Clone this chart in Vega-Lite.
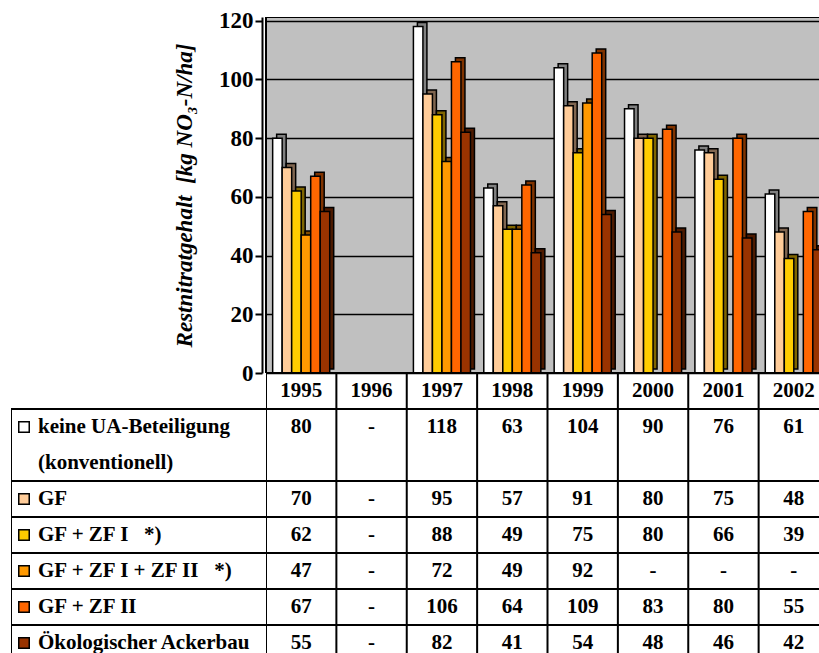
{
  "$schema": "https://vega.github.io/schema/vega-lite/v6.json",
  "background": "white",
  "padding": {"left": 5, "top": 9, "right": 0, "bottom": 0},
  "config": {"view": {"stroke": null}, "font": "Liberation Serif"},
  "datasets": {
    "messwerte": [
      {"Jahr": "1995", "Variante": "keine UA-Beteiligung", "Wert": 80},
      {"Jahr": "1996", "Variante": "keine UA-Beteiligung", "Wert": null},
      {"Jahr": "1997", "Variante": "keine UA-Beteiligung", "Wert": 118},
      {"Jahr": "1998", "Variante": "keine UA-Beteiligung", "Wert": 63},
      {"Jahr": "1999", "Variante": "keine UA-Beteiligung", "Wert": 104},
      {"Jahr": "2000", "Variante": "keine UA-Beteiligung", "Wert": 90},
      {"Jahr": "2001", "Variante": "keine UA-Beteiligung", "Wert": 76},
      {"Jahr": "2002", "Variante": "keine UA-Beteiligung", "Wert": 61},
      {"Jahr": "1995", "Variante": "GF", "Wert": 70},
      {"Jahr": "1996", "Variante": "GF", "Wert": null},
      {"Jahr": "1997", "Variante": "GF", "Wert": 95},
      {"Jahr": "1998", "Variante": "GF", "Wert": 57},
      {"Jahr": "1999", "Variante": "GF", "Wert": 91},
      {"Jahr": "2000", "Variante": "GF", "Wert": 80},
      {"Jahr": "2001", "Variante": "GF", "Wert": 75},
      {"Jahr": "2002", "Variante": "GF", "Wert": 48},
      {"Jahr": "1995", "Variante": "GF + ZF I", "Wert": 62},
      {"Jahr": "1996", "Variante": "GF + ZF I", "Wert": null},
      {"Jahr": "1997", "Variante": "GF + ZF I", "Wert": 88},
      {"Jahr": "1998", "Variante": "GF + ZF I", "Wert": 49},
      {"Jahr": "1999", "Variante": "GF + ZF I", "Wert": 75},
      {"Jahr": "2000", "Variante": "GF + ZF I", "Wert": 80},
      {"Jahr": "2001", "Variante": "GF + ZF I", "Wert": 66},
      {"Jahr": "2002", "Variante": "GF + ZF I", "Wert": 39},
      {"Jahr": "1995", "Variante": "GF + ZF I + ZF II", "Wert": 47},
      {"Jahr": "1996", "Variante": "GF + ZF I + ZF II", "Wert": null},
      {"Jahr": "1997", "Variante": "GF + ZF I + ZF II", "Wert": 72},
      {"Jahr": "1998", "Variante": "GF + ZF I + ZF II", "Wert": 49},
      {"Jahr": "1999", "Variante": "GF + ZF I + ZF II", "Wert": 92},
      {"Jahr": "2000", "Variante": "GF + ZF I + ZF II", "Wert": null},
      {"Jahr": "2001", "Variante": "GF + ZF I + ZF II", "Wert": null},
      {"Jahr": "2002", "Variante": "GF + ZF I + ZF II", "Wert": null},
      {"Jahr": "1995", "Variante": "GF + ZF II", "Wert": 67},
      {"Jahr": "1996", "Variante": "GF + ZF II", "Wert": null},
      {"Jahr": "1997", "Variante": "GF + ZF II", "Wert": 106},
      {"Jahr": "1998", "Variante": "GF + ZF II", "Wert": 64},
      {"Jahr": "1999", "Variante": "GF + ZF II", "Wert": 109},
      {"Jahr": "2000", "Variante": "GF + ZF II", "Wert": 83},
      {"Jahr": "2001", "Variante": "GF + ZF II", "Wert": 80},
      {"Jahr": "2002", "Variante": "GF + ZF II", "Wert": 55},
      {"Jahr": "1995", "Variante": "Ökologischer Ackerbau", "Wert": 55},
      {"Jahr": "1996", "Variante": "Ökologischer Ackerbau", "Wert": null},
      {"Jahr": "1997", "Variante": "Ökologischer Ackerbau", "Wert": 82},
      {"Jahr": "1998", "Variante": "Ökologischer Ackerbau", "Wert": 41},
      {"Jahr": "1999", "Variante": "Ökologischer Ackerbau", "Wert": 54},
      {"Jahr": "2000", "Variante": "Ökologischer Ackerbau", "Wert": 48},
      {"Jahr": "2001", "Variante": "Ökologischer Ackerbau", "Wert": 46},
      {"Jahr": "2002", "Variante": "Ökologischer Ackerbau", "Wert": 42}
    ],
    "zeilen": [
      {"Zeile": "keine UA-Beteiligung", "Variante": "keine UA-Beteiligung", "Text": "keine UA-Beteiligung"},
      {"Zeile": "(konventionell)", "Variante": null, "Text": "(konventionell)"},
      {"Zeile": "GF", "Variante": "GF", "Text": "GF"},
      {"Zeile": "GF + ZF I", "Variante": "GF + ZF I", "Text": "GF + ZF I\u00a0\u00a0\u00a0*)"},
      {"Zeile": "GF + ZF I + ZF II", "Variante": "GF + ZF I + ZF II", "Text": "GF + ZF I + ZF II\u00a0\u00a0\u00a0*)"},
      {"Zeile": "GF + ZF II", "Variante": "GF + ZF II", "Text": "GF + ZF II"},
      {"Zeile": "Ökologischer Ackerbau", "Variante": "Ökologischer Ackerbau", "Text": "Ökologischer Ackerbau"}
    ]
  },
  "columns": 2,
  "spacing": 0,
  "bounds": "flush",
  "align": "each",
  "concat": [
    {
      "width": 255,
      "height": 356,
      "data": {"values": [{}]},
      "mark": {"type": "text"},
      "encoding": {"text": {"value": ""}}
    },
    {
      "width": 554,
      "height": 356,
      "view": {"fill": "#C0C0C0", "stroke": null},
      "data": {"name": "messwerte"},
      "transform": [{"filter": "isValid(datum.Wert)"}],
      "resolve": {"scale": {"color": "independent", "xOffset": "independent"}},
      "layer": [
        {
          "mark": {"type": "bar", "yOffset": -4, "stroke": "black", "strokeWidth": 1.5, "clip": true},
          "encoding": {
            "x": {"field": "Jahr", "type": "nominal", "scale": {"domain": ["1995", "1996", "1997", "1998", "1999", "2000", "2001", "2002"], "range": [0, 563], "paddingInner": 0, "paddingOuter": 0}, "axis": null},
            "xOffset": {"field": "Variante", "type": "nominal", "scale": {"domain": ["keine UA-Beteiligung", "GF", "GF + ZF I", "GF + ZF I + ZF II", "GF + ZF II", "Ökologischer Ackerbau"], "paddingInner": 0, "paddingOuter": 0.7, "align": 0.8}},
            "y": {"field": "Wert", "type": "quantitative", "scale": {"domain": [0, 121.26], "nice": false, "zero": true},
              "axis": {"values": [0, 20, 40, 60, 80, 100, 120], "grid": true, "gridColor": "black", "gridWidth": 1.5, "domainColor": "black", "domainWidth": 2, "tickColor": "black", "tickWidth": 2, "tickSize": 7, "offset": 4, "labelFont": "Liberation Serif", "labelFontWeight": "bold", "labelFontSize": 23, "labelColor": "black", "labelPadding": 2, "title": "Restnitratgehalt\u00a0\u00a0[kg NO₃-N/ha]", "titleFont": "Liberation Serif", "titleFontStyle": "italic", "titleFontWeight": "bold", "titleFontSize": 23, "titleColor": "black", "titlePadding": 22}},
            "color": {"field": "Variante", "type": "nominal", "scale": {"domain": ["keine UA-Beteiligung", "GF", "GF + ZF I", "GF + ZF I + ZF II", "GF + ZF II", "Ökologischer Ackerbau"], "range": ["#808080", "#806650", "#806600", "#804C00", "#803300", "#4D1A00"]}, "legend": null}
          }
        },
        {
          "mark": {"type": "bar", "stroke": "black", "strokeWidth": 1.5, "clip": true},
          "encoding": {
            "x": {"field": "Jahr", "type": "nominal"},
            "xOffset": {"field": "Variante", "type": "nominal", "scale": {"domain": ["keine UA-Beteiligung", "GF", "GF + ZF I", "GF + ZF I + ZF II", "GF + ZF II", "Ökologischer Ackerbau"], "paddingInner": 0, "paddingOuter": 0.7}},
            "y": {"field": "Wert", "type": "quantitative"},
            "color": {"field": "Variante", "type": "nominal", "scale": {"domain": ["keine UA-Beteiligung", "GF", "GF + ZF I", "GF + ZF I + ZF II", "GF + ZF II", "Ökologischer Ackerbau"], "range": ["#FFFFFF", "#FFCC99", "#FFCC00", "#FF9900", "#FF6600", "#993300"]}, "legend": null}
          }
        },
        {
          "mark": {"type": "rule", "color": "black", "strokeWidth": 2, "clip": true},
          "encoding": {"y": {"datum": 121.26, "type": "quantitative"}}
        },
        {
          "mark": {"type": "rule", "color": "black", "strokeWidth": 2, "clip": true},
          "encoding": {"y": {"datum": 0, "type": "quantitative"}}
        },
        {
          "mark": {"type": "rule", "color": "black", "strokeWidth": 2},
          "encoding": {"x": {"datum": "1995", "type": "nominal", "bandPosition": 0}}
        }
      ]
    },
    {
      "width": 255,
      "height": 280,
      "data": {"name": "zeilen"},
      "layer": [
        {
          "mark": {"type": "rule", "color": "black", "strokeWidth": 2, "clip": true},
          "encoding": {"x": {"datum": 0, "type": "quantitative", "scale": {"domain": [0, 1], "nice": false, "zero": false}, "axis": null}}
        },
        {
          "mark": {"type": "rect", "fill": "white"},
          "encoding": {
            "x": {"datum": -0.02, "type": "quantitative"},
            "x2": {"datum": 0.02},
            "y": {"datum": "Jahr", "type": "nominal", "scale": {"domain": ["Jahr", "keine UA-Beteiligung", "(konventionell)", "GF", "GF + ZF I", "GF + ZF I + ZF II", "GF + ZF II", "Ökologischer Ackerbau"], "range": [0, 288], "paddingInner": 0, "paddingOuter": 0}, "axis": null}
          }
        },
        {
          "transform": [{"filter": "isValid(datum.Variante)"}],
          "mark": {"type": "rule", "color": "black", "strokeWidth": 2, "clip": true},
          "encoding": {"y": {"field": "Zeile", "type": "nominal", "bandPosition": 0}}
        },
        {
          "transform": [{"filter": "isValid(datum.Variante)"}],
          "mark": {"type": "point", "shape": "square", "filled": true, "size": 110, "stroke": "black", "strokeWidth": 1.5, "opacity": 1, "xOffset": 13, "clip": true},
          "encoding": {
            "x": {"datum": 0, "type": "quantitative"},
            "y": {"field": "Zeile", "type": "nominal"},
            "fill": {"field": "Variante", "type": "nominal", "scale": {"domain": ["keine UA-Beteiligung", "GF", "GF + ZF I", "GF + ZF I + ZF II", "GF + ZF II", "Ökologischer Ackerbau"], "range": ["#FFFFFF", "#FFCC99", "#FFCC00", "#FF9900", "#FF6600", "#993300"]}, "legend": null}
          }
        },
        {
          "mark": {"type": "text", "align": "left", "baseline": "middle", "dx": 27, "font": "Liberation Serif", "fontWeight": "bold", "fontSize": 21, "color": "black", "clip": true},
          "encoding": {
            "x": {"datum": 0, "type": "quantitative"},
            "y": {"field": "Zeile", "type": "nominal"},
            "text": {"field": "Text", "type": "nominal"}
          }
        }
      ]
    },
    {
      "width": 554,
      "height": 280,
      "data": {"name": "messwerte"},
      "layer": [
        {
          "transform": [{"aggregate": [{"op": "count", "as": "n"}], "groupby": ["Jahr"]}],
          "mark": {"type": "rule", "color": "black", "strokeWidth": 2, "clip": true},
          "encoding": {"x": {"field": "Jahr", "type": "nominal", "bandPosition": 0, "scale": {"domain": ["1995", "1996", "1997", "1998", "1999", "2000", "2001", "2002"], "range": [0, 563], "paddingInner": 0, "paddingOuter": 0}, "axis": null}}
        },
        {
          "data": {"name": "zeilen"},
          "transform": [{"filter": "isValid(datum.Variante)"}],
          "mark": {"type": "rule", "color": "black", "strokeWidth": 2, "clip": true},
          "encoding": {"y": {"field": "Zeile", "type": "nominal", "bandPosition": 0, "scale": {"domain": ["Jahr", "keine UA-Beteiligung", "(konventionell)", "GF", "GF + ZF I", "GF + ZF I + ZF II", "GF + ZF II", "Ökologischer Ackerbau"], "range": [0, 288], "paddingInner": 0, "paddingOuter": 0}, "axis": null}}
        },
        {
          "transform": [{"aggregate": [{"op": "count", "as": "n"}], "groupby": ["Jahr"]}],
          "mark": {"type": "text", "baseline": "middle", "font": "Liberation Serif", "fontWeight": "bold", "fontSize": 21, "color": "black", "clip": true},
          "encoding": {
            "x": {"field": "Jahr", "type": "nominal"},
            "y": {"datum": "Jahr", "type": "nominal"},
            "text": {"field": "Jahr", "type": "nominal"}
          }
        },
        {
          "transform": [{"filter": "isValid(datum.Wert)"}],
          "mark": {"type": "text", "baseline": "middle", "font": "Liberation Serif", "fontWeight": "bold", "fontSize": 21, "color": "black", "clip": true},
          "encoding": {
            "x": {"field": "Jahr", "type": "nominal"},
            "y": {"field": "Variante", "type": "nominal"},
            "text": {"field": "Wert", "type": "quantitative"}
          }
        },
        {
          "transform": [{"filter": "!isValid(datum.Wert)"}],
          "mark": {"type": "text", "baseline": "middle", "font": "Liberation Serif", "fontWeight": "bold", "fontSize": 21, "color": "black", "clip": true},
          "encoding": {
            "x": {"field": "Jahr", "type": "nominal"},
            "y": {"field": "Variante", "type": "nominal"},
            "text": {"value": "-"}
          }
        }
      ]
    }
  ]
}
